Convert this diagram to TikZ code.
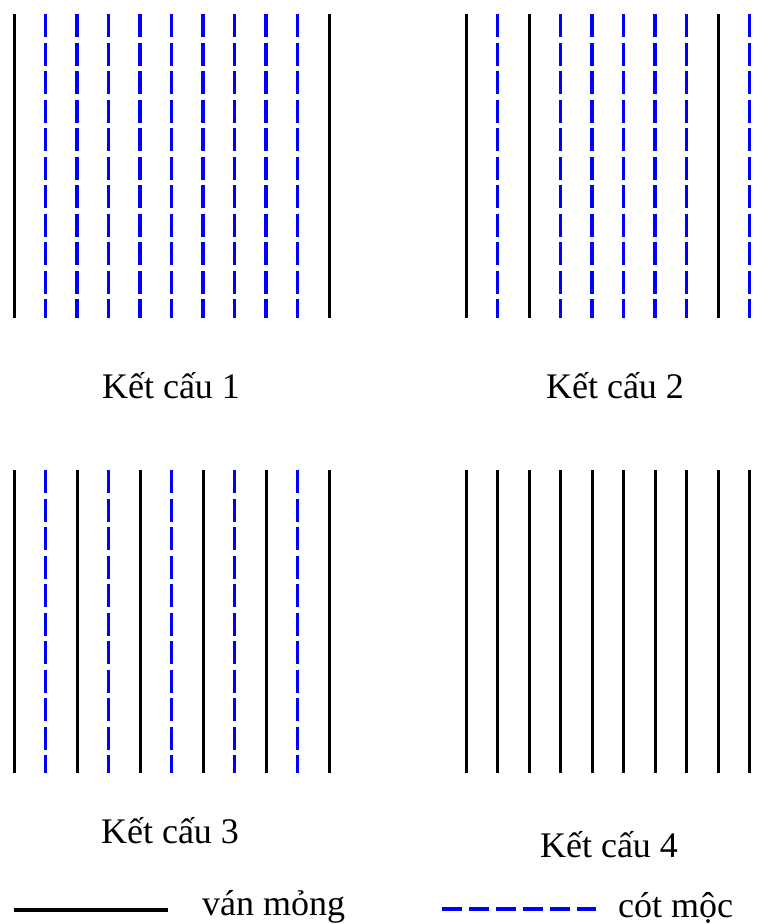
\documentclass[tikz,border=0pt]{standalone}
\usepackage{fontspec}
\setmainfont{Liberation Serif}
\definecolor{cotblue}{RGB}{0,0,255}
\begin{document}
\begin{tikzpicture}[x=1pt,y=-1pt,
  van/.style={black,line width=3pt},
  cot/.style={cotblue,line width=3.2pt,dash pattern=on 23pt off 5.5pt},
  lbl/.style={font=\fontsize{36}{40}\selectfont,inner sep=0pt,anchor=base}]
\useasboundingbox (0,0) rectangle (775,924);
% Ket cau 1
\foreach \k in {0,10} \draw[van] (14+31.5*\k,14) -- (14+31.5*\k,318);
\foreach \k in {1,...,9} \draw[cot] (14+31.5*\k,14) -- (14+31.5*\k,318);
% Ket cau 2
\foreach \k in {0,2,8} \draw[van] (466+31.5*\k,14) -- (466+31.5*\k,318);
\foreach \k in {1,3,4,5,6,7,9} \draw[cot] (466+31.5*\k,14) -- (466+31.5*\k,318);
% Ket cau 3
\foreach \k in {0,2,4,6,8,10} \draw[van] (14+31.5*\k,470) -- (14+31.5*\k,773);
\foreach \k in {1,3,5,7,9} \draw[cot] (14+31.5*\k,470) -- (14+31.5*\k,773);
% Ket cau 4
\foreach \k in {0,...,9} \draw[van] (466+31.5*\k,470) -- (466+31.5*\k,773);
% labels
\node[lbl] (t1) at (171,398) {Kết cấu 1};
\node[lbl] (t2) at (615,398) {Kết cấu 2};
\node[lbl] (t3) at (170,843) {Kết cấu 3};
\node[lbl] (t4) at (609,857) {Kết cấu 4};
% legend
\coordinate (l1a) at (14,910);
\coordinate (l1b) at (168,910);
\draw[black,line width=4pt] (l1a) -- (l1b);
\node[lbl,anchor=base west] (lv) at (202,915) {ván mỏng};
\coordinate (l2a) at (442,909);
\coordinate (l2b) at (596,909);
\draw[cotblue,line width=4pt,dash pattern=on 20pt off 7pt] (l2a) -- (l2b);
\node[lbl,anchor=base west] (lc) at (618,917) {cót mộc};
\end{tikzpicture}
\end{document}
